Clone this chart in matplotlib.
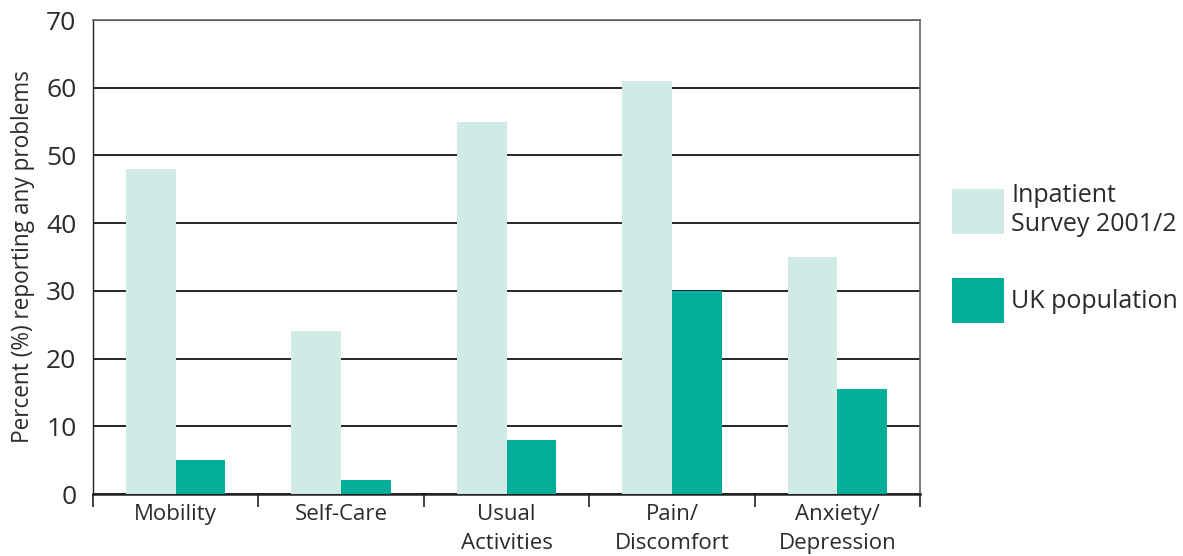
import numpy as np
import matplotlib
matplotlib.use("Agg")
import matplotlib.pyplot as plt
from matplotlib.ticker import FixedLocator

categories = ["Mobility", "Self-Care", "Usual\nActivities", "Pain/\nDiscomfort", "Anxiety/\nDepression"]
inpatient = [48, 24, 55, 61, 35]
uk_population = [5, 2, 8, 30, 15.5]
series_labels = ["Inpatient\nSurvey 2001/2", "UK population"]
y_ticks = [0, 10, 20, 30, 40, 50, 60, 70]

LIGHT = "#d0eae5"
DARK = "#00ae9a"
TEXT = "#2b2b2b"

plt.rcParams["font.family"] = ["Open Sans", "DejaVu Sans"]

fig = plt.figure(figsize=(11.83, 5.56), dpi=100)
ax = fig.add_axes([93 / 1183, 1 - 494 / 556, 827 / 1183, 474 / 556])

x = np.arange(len(categories))
w = 0.30
ax.bar(x - w / 2, inpatient, w, color=LIGHT, label=series_labels[0], zorder=3)
ax.bar(x + w / 2, uk_population, w, color=DARK, label=series_labels[1], zorder=3)

ax.set_xlim(-0.5, len(categories) - 0.5)
ax.set_ylim(0, 70)
ax.set_yticks(y_ticks)
ax.yaxis.grid(True, color="black", linewidth=1.2, zorder=0)
ax.set_axisbelow(True)

ax.set_xticks(x)
ax.set_xticklabels(categories, fontsize=16, color=TEXT, linespacing=1.5)
ax.xaxis.set_minor_locator(FixedLocator(np.arange(-0.5, len(categories), 1.0)))
ax.tick_params(axis="x", which="major", length=0, pad=7)
ax.tick_params(axis="x", which="minor", length=9, width=1.2, direction="out", color="#222222")
ax.tick_params(axis="y", length=0, labelsize=19, labelcolor=TEXT, pad=12)

ax.spines["top"].set_color("#666666")
ax.spines["right"].set_color("#666666")
ax.spines["left"].set_color("#222222")
ax.spines["bottom"].set_color("#222222")
ax.spines["bottom"].set_linewidth(1.8)
ax.spines["top"].set_linewidth(1.2)
ax.spines["right"].set_linewidth(1.2)
ax.spines["left"].set_linewidth(1.0)

ax.set_ylabel("Percent (%) reporting any problems", fontsize=16.3, color=TEXT, labelpad=8)

fig.legend(loc="upper left", bbox_to_anchor=(952 / 1183, 1 - 183 / 556),
           frameon=False, fontsize=18, handlelength=2.08, handleheight=2.4,
           handletextpad=0.28, labelspacing=1.65, borderpad=0, borderaxespad=0,
           labelcolor=TEXT)

fig.savefig("out.png", dpi=100)
